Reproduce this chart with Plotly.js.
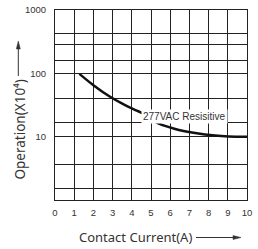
<!DOCTYPE html>
<html>
<head>
<meta charset="utf-8">
<script src="https://cdn.plot.ly/plotly-3.0.1.min.js"></script>
<style>html,body{margin:0;padding:0;background:#fff;}#chart{width:258px;height:249px;}</style>
</head>
<body>
<div id="chart"></div>
<script>
// Data
const currentA = [1.27, 2.0, 2.87, 3.6, 4.26, 4.96, 5.22, 6.26, 7.3, 8.35, 9.04, 10];
const operations = [98, 65, 42.6, 32, 25.7, 20.5, 17.2, 13.2, 11.4, 10.4, 10.1, 10];
const xTicks = [0, 1, 2, 3, 4, 5, 6, 7, 8, 9, 10];
const yMajorVals = [10, 100, 1000];
const yMajorText = ['10', '100', '1000'];
const yMinorGrid = [1.5, 3.7, 17, 40, 160, 290, 430];
const curveLabel = '277VAC Resisitive';
const xTitle = 'Contact Current(A)';
const yTitle = 'Operation(X10\u2074)';

const trace = {
  x: currentA, y: operations, type: 'scatter', mode: 'lines',
  line: {color: '#111', width: 2.5, shape: 'spline', smoothing: 1},
  hoverinfo: 'none'
};
const gridHolder = {x: [], y: [], yaxis: 'y2', type: 'scatter', mode: 'lines', hoverinfo: 'none'};

const axisCommon = {
  showgrid: true, gridcolor: '#222', gridwidth: 1,
  showline: true, linecolor: '#222', linewidth: 1, mirror: true,
  ticks: '', zeroline: false, fixedrange: true,
  tickfont: {family: 'Liberation Sans, Arial, sans-serif', size: 9.5, color: '#333'}
};
const titleFont = {family: 'Noto Sans, sans-serif', size: 13, color: '#333'};

const W = 192, H = 190; // plot area size in px, for paper-coordinate arrows
const arrowColor = '#333';

const layout = {
  width: 258, height: 249,
  margin: {l: 55, r: 11, t: 10, b: 49},
  paper_bgcolor: '#fff', plot_bgcolor: '#fff',
  showlegend: false,
  font: {family: 'Liberation Sans, Arial, sans-serif', size: 9.5, color: '#333'},
  xaxis: Object.assign({range: [0, 10], tickvals: xTicks, ticktext: xTicks.map(String),
                        ticklabelstandoff: 4}, axisCommon),
  yaxis: Object.assign({type: 'log', range: [0, 3], tickvals: yMajorVals, ticktext: yMajorText,
                        ticklabelstandoff: 6}, axisCommon),
  yaxis2: {type: 'log', range: [0, 3], overlaying: 'y', side: 'left', tickvals: yMinorGrid,
           showticklabels: false, showgrid: true, gridcolor: '#222', gridwidth: 1,
           showline: false, ticks: '', zeroline: false, fixedrange: true},
  annotations: [
    {text: curveLabel, x: 6.75, y: 1.315, xref: 'x', yref: 'y',
     showarrow: false, bgcolor: '#fff', borderpad: 1,
     font: {family: 'Liberation Sans, Arial, sans-serif', size: 10, color: '#333'}},
    {text: xTitle, x: 0.417, y: -0.195, xref: 'paper', yref: 'paper',
     showarrow: false, xanchor: 'center', yanchor: 'middle', font: titleFont},
    {text: yTitle, x: (19.5 - 55) / 192, y: (200 - 130) / 190, xref: 'paper', yref: 'paper',
     showarrow: false, textangle: -90, xanchor: 'center', yanchor: 'middle',
     font: Object.assign({}, titleFont, {size: 13.5})}
  ],
  shapes: [
    // x-title arrow: line + head
    {type: 'line', xref: 'paper', yref: 'paper', x0: (196 - 55) / W, x1: (236 - 55) / W,
     y0: (200 - 237.5) / H, y1: (200 - 237.5) / H, line: {color: arrowColor, width: 1}},
    {type: 'path', xref: 'paper', yref: 'paper',
     path: `M ${(241 - 55) / W} ${(200 - 237.5) / H} L ${(233 - 55) / W} ${(200 - 235.5) / H} L ${(233 - 55) / W} ${(200 - 239.5) / H} Z`,
     fillcolor: arrowColor, line: {color: arrowColor, width: 0.5}},
    // y-title arrow: line + head
    {type: 'line', xref: 'paper', yref: 'paper', x0: (18.3 - 55) / W, x1: (18.3 - 55) / W,
     y0: (200 - 76) / H, y1: (200 - 47) / H, line: {color: arrowColor, width: 1}},
    {type: 'path', xref: 'paper', yref: 'paper',
     path: `M ${(18.3 - 55) / W} ${(200 - 41) / H} L ${(16.3 - 55) / W} ${(200 - 49) / H} L ${(20.3 - 55) / W} ${(200 - 49) / H} Z`,
     fillcolor: arrowColor, line: {color: arrowColor, width: 0.5}}
  ]
};

Plotly.newPlot('chart', [trace, gridHolder], layout, {displayModeBar: false, staticPlot: true});
</script>
</body>
</html>
